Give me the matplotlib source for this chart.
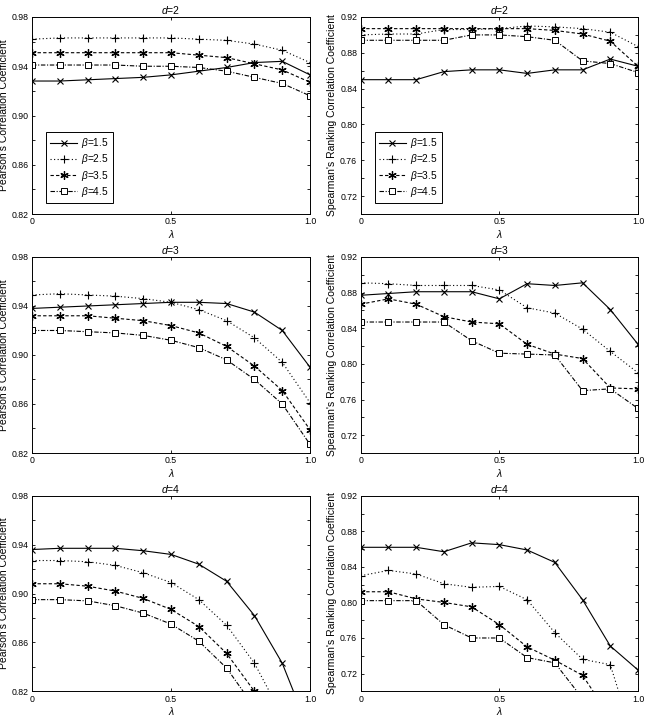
import numpy as np
import matplotlib
matplotlib.use("Agg")
import matplotlib.pyplot as plt

plt.rcParams['font.family'] = ['Liberation Sans', 'DejaVu Sans']
plt.rcParams['mathtext.fontset'] = 'custom'
plt.rcParams['mathtext.rm'] = 'Liberation Sans'
plt.rcParams['mathtext.it'] = 'Liberation Sans:italic'

# lambda values on the x axis
lam = [0.0, 0.1, 0.2, 0.3, 0.4, 0.5, 0.6, 0.7, 0.8, 0.9, 1.0]
betas = ["1.5", "2.5", "3.5", "4.5"]

# Pearson's correlation coefficient, d=2,3,4
p2_15 = [0.928, 0.928, 0.929, 0.930, 0.931, 0.933, 0.936, 0.939, 0.943, 0.944, 0.933]
p2_25 = [0.962, 0.963, 0.963, 0.963, 0.963, 0.963, 0.962, 0.961, 0.958, 0.953, 0.943]
p2_35 = [0.951, 0.951, 0.951, 0.951, 0.951, 0.951, 0.949, 0.947, 0.942, 0.937, 0.927]
p2_45 = [0.941, 0.941, 0.941, 0.941, 0.940, 0.940, 0.939, 0.936, 0.931, 0.926, 0.916]

p3_15 = [0.938, 0.939, 0.940, 0.941, 0.942, 0.943, 0.943, 0.942, 0.935, 0.920, 0.890]
p3_25 = [0.949, 0.950, 0.949, 0.948, 0.946, 0.943, 0.937, 0.928, 0.914, 0.894, 0.861]
p3_35 = [0.932, 0.932, 0.932, 0.930, 0.928, 0.924, 0.918, 0.907, 0.891, 0.871, 0.839]
p3_45 = [0.920, 0.920, 0.919, 0.918, 0.916, 0.912, 0.906, 0.896, 0.880, 0.860, 0.827]

p4_15 = [0.936, 0.937, 0.937, 0.937, 0.935, 0.932, 0.924, 0.910, 0.882, 0.843, 0.786]
p4_25 = [0.927, 0.927, 0.926, 0.923, 0.917, 0.909, 0.895, 0.874, 0.843, 0.800, 0.740]
p4_35 = [0.908, 0.908, 0.906, 0.902, 0.896, 0.887, 0.873, 0.851, 0.820, 0.780, 0.730]
p4_45 = [0.895, 0.895, 0.894, 0.890, 0.884, 0.875, 0.861, 0.839, 0.807, 0.770, 0.720]

# Spearman's ranking correlation coefficient, d=2,3,4
s2_15 = [0.850, 0.850, 0.850, 0.859, 0.861, 0.861, 0.857, 0.861, 0.861, 0.873, 0.865]
s2_25 = [0.900, 0.901, 0.901, 0.906, 0.906, 0.907, 0.910, 0.909, 0.907, 0.903, 0.887]
s2_35 = [0.907, 0.907, 0.907, 0.907, 0.907, 0.907, 0.907, 0.905, 0.901, 0.893, 0.865]
s2_45 = [0.894, 0.894, 0.894, 0.894, 0.900, 0.900, 0.898, 0.894, 0.871, 0.868, 0.858]

s3_15 = [0.877, 0.879, 0.881, 0.881, 0.881, 0.873, 0.890, 0.888, 0.891, 0.861, 0.822]
s3_25 = [0.891, 0.890, 0.888, 0.888, 0.888, 0.883, 0.863, 0.857, 0.839, 0.814, 0.790]
s3_35 = [0.867, 0.873, 0.867, 0.853, 0.847, 0.845, 0.822, 0.811, 0.806, 0.773, 0.772]
s3_45 = [0.847, 0.847, 0.847, 0.847, 0.826, 0.812, 0.811, 0.810, 0.770, 0.772, 0.750]

s4_15 = [0.862, 0.862, 0.862, 0.857, 0.867, 0.865, 0.859, 0.845, 0.803, 0.751, 0.724]
s4_25 = [0.830, 0.836, 0.832, 0.821, 0.817, 0.818, 0.803, 0.766, 0.736, 0.730, 0.630]
s4_35 = [0.812, 0.812, 0.804, 0.800, 0.795, 0.775, 0.750, 0.735, 0.718, 0.671, 0.620]
s4_45 = [0.802, 0.802, 0.802, 0.775, 0.760, 0.760, 0.738, 0.732, 0.692, 0.650, 0.600]

# y tick labels of each column
pear_ticks = [0.82, 0.86, 0.90, 0.94, 0.98]
spear_ticks = [0.72, 0.76, 0.80, 0.84, 0.88, 0.92]

styles = [
    dict(linestyle='-', marker='x', ms=4.5, mew=0.8),
    dict(linestyle=(0, (1, 2.2)), marker='+', ms=6, mew=0.8),
    dict(linestyle=(0, (3, 2)), marker=(6, 2, 0), ms=6, mew=0.9),
    dict(linestyle=(0, (4, 1.5, 1, 1.5)), marker='s', ms=4.5, mew=0.7, mfc='white'),
]

fig = plt.figure(figsize=(6.47, 7.17), dpi=100)

rows = [(0.7015, 0.2748), (0.3682, 0.2734), (0.0358, 0.2728)]
cols = [(0.0495, 0.4297), (0.5575, 0.4286)]


def panel(rect, series, title, ylabel, ylim, ticks, legend=False):
    ax = fig.add_axes(rect)
    for ys, b, st in zip(series, betas, styles):
        ax.plot(lam, ys, color='black', lw=0.8, label=r"$\beta$=" + b, **st)
    ax.set_xlim(0, 1)
    ax.set_ylim(*ylim)
    ax.set_xticks([0, 0.5, 1.0])
    ax.set_xticklabels(["0", "0.5", "1.0"])
    ax.set_yticks(ticks)
    ax.set_yticklabels(["%.2f" % t for t in ticks])
    ax.set_yticks(np.arange(ylim[0], ylim[1] + 0.001, 0.02), minor=True)
    ax.tick_params(which='both', direction='in', top=True, right=True,
                   length=2.5, width=0.6, labelsize=6.3, pad=2.5)
    for s in ax.spines.values():
        s.set_linewidth(0.7)
    ax.set_title(title, fontsize=7.5, pad=2)
    ax.set_xlabel(r"$\lambda$", fontsize=7.5, labelpad=1)
    ax.set_ylabel(ylabel, fontsize=7.5, labelpad=2)
    if legend:
        leg = ax.legend(loc='lower left', bbox_to_anchor=(0.05, 0.056), borderaxespad=0,
                        fontsize=7.3, fancybox=False, edgecolor='black', framealpha=1,
                        handlelength=2.7, borderpad=0.4, labelspacing=0.22,
                        handletextpad=0.4)
        leg.get_frame().set_linewidth(0.7)
    return ax


pear = [[p2_15, p2_25, p2_35, p2_45], [p3_15, p3_25, p3_35, p3_45], [p4_15, p4_25, p4_35, p4_45]]
spear = [[s2_15, s2_25, s2_35, s2_45], [s3_15, s3_25, s3_35, s3_45], [s4_15, s4_25, s4_35, s4_45]]

for i, (b, h) in enumerate(rows):
    t = r"$d$=%d" % (i + 2)
    panel([cols[0][0], b, cols[0][1], h], pear[i], t,
          "Pearson's Correlation Coefficient", (0.82, 0.98), pear_ticks, legend=(i == 0))
    panel([cols[1][0], b, cols[1][1], h], spear[i], t,
          "Spearman's Ranking Correlation Coefficient", (0.70, 0.92), spear_ticks, legend=(i == 0))

fig.savefig("out.png", dpi=100)
